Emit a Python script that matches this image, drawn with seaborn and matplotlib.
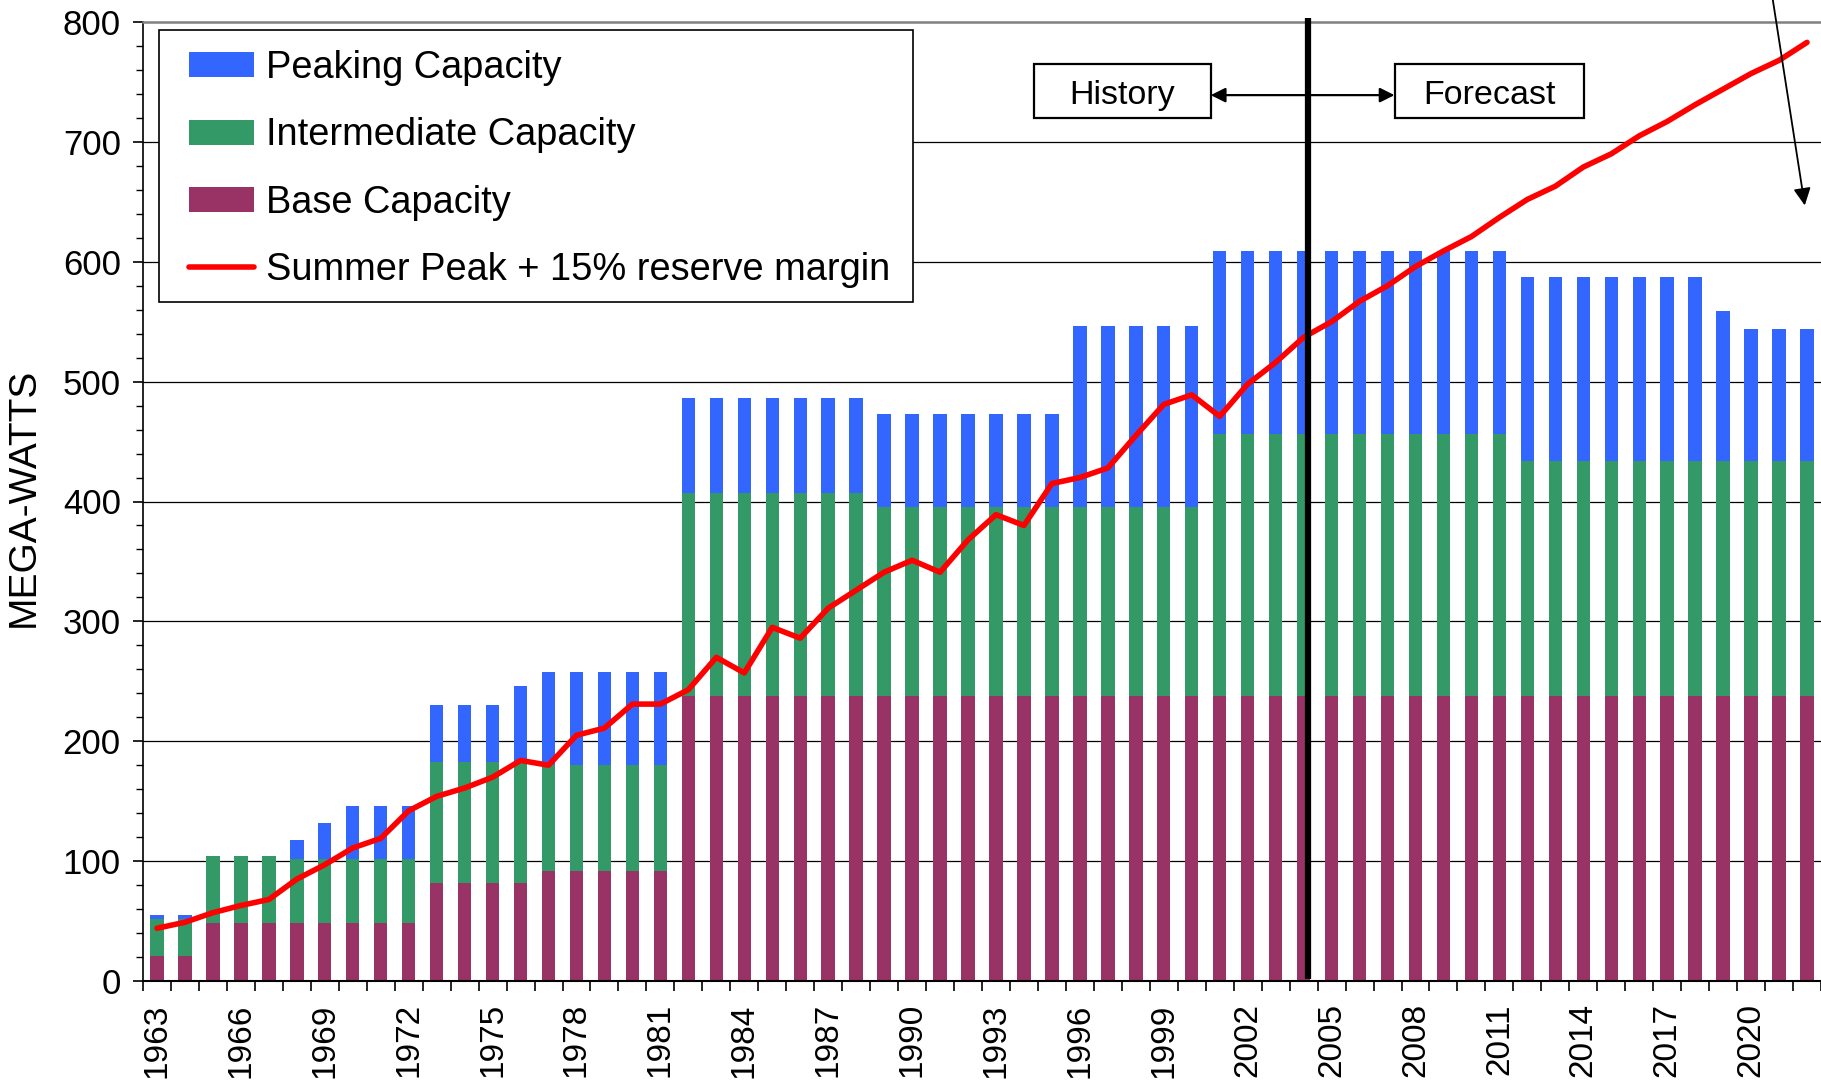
import numpy as np
import pandas as pd
import matplotlib
matplotlib.use("Agg")
import matplotlib.pyplot as plt
import seaborn as sns
from matplotlib.patches import Patch, Rectangle
from matplotlib.lines import Line2D
from matplotlib.ticker import MultipleLocator, FixedLocator

# ---------------- data ----------------
years = list(range(1963, 2023))

base = [21] * 2 + [48] * 8 + [82] * 4 + [92] * 5 + [238] * 41
intermediate_top = ([52] * 2 + [104] * 3 + [102] * 5 + [183] * 4 + [180] * 5 +
                    [407] * 7 + [395] * 12 + [456] * 11 + [434] * 11)
total_top = ([55] * 2 + [104] * 3 + [118, 132] + [146] * 3 + [230] * 3 + [246] +
             [258] * 5 + [486] * 7 + [473] * 7 + [546] * 5 + [609] * 11 +
             [587] * 7 + [559] + [544] * 3)
summer_peak = [44, 49, 57, 63, 68, 85, 97, 111, 119, 142,
               154, 161, 170, 184, 180, 205, 211, 231, 231, 243,
               270, 257, 295, 286, 311, 326, 341, 351, 341, 368,
               389, 380, 415, 420, 428, 455, 481, 489, 471, 498,
               516, 537, 550, 567, 580, 596, 609, 621, 637, 652,
               663, 679, 690, 705, 717, 731, 744, 757, 768, 783]

intermediate = [t - b for t, b in zip(intermediate_top, base)]
peaking = [t - i for t, i in zip(total_top, intermediate_top)]

series_labels = ["Peaking Capacity", "Intermediate Capacity", "Base Capacity",
                 "Summer Peak + 15% reserve margin"]
tick_years = years[::3]

df = pd.DataFrame({"year": [str(y) for y in years],
                   "pos": np.arange(len(years)),
                   "base": base,
                   "inter_cum": np.array(base) + np.array(intermediate),
                   "total": np.array(base) + np.array(intermediate) + np.array(peaking),
                   "peak": summer_peak})

# ---------------- style ----------------
sns.set_theme(style="white")
plt.rcParams["font.family"] = ["Liberation Sans", "DejaVu Sans"]
plt.rcParams["text.color"] = "black"
plt.rcParams["axes.labelcolor"] = "black"
plt.rcParams["xtick.color"] = "black"
plt.rcParams["ytick.color"] = "black"

c_peak = "#3366FF"
c_inter = "#339966"
c_base = "#993366"
c_line = "#FF0000"

fig = plt.figure(figsize=(18.21, 10.84), dpi=100)
ax = fig.add_axes([143 / 1821, 1 - 981 / 1084, 1 - 143 / 1821, (981 - 22) / 1084])

bw = 0.48
sns.barplot(data=df, x="year", y="total", color=c_peak, saturation=1, width=bw,
            linewidth=0, ax=ax, zorder=2)
sns.barplot(data=df, x="year", y="inter_cum", color=c_inter, saturation=1, width=bw,
            linewidth=0, ax=ax, zorder=2)
sns.barplot(data=df, x="year", y="base", color=c_base, saturation=1, width=bw,
            linewidth=0, ax=ax, zorder=2)
sns.lineplot(data=df, x="pos", y="peak", color=c_line, lw=4.0, sort=False, ax=ax,
             zorder=4, legend=False)

ax.set_xlim(-0.5, 59.5)
ax.set_ylim(0, 800)

# gridlines
ax.yaxis.set_major_locator(MultipleLocator(100))
ax.yaxis.set_minor_locator(MultipleLocator(20))
ax.grid(False)
for yv in range(100, 800, 100):
    ax.axhline(yv, color="black", lw=0.9, zorder=1)

# spines
ax.spines["right"].set_visible(False)
ax.spines["top"].set_color("#808080")
ax.spines["top"].set_linewidth(1.8)
ax.spines["left"].set_color("black")
ax.spines["left"].set_linewidth(1.2)
ax.spines["bottom"].set_color("black")
ax.spines["bottom"].set_linewidth(1.5)

# y ticks
ax.tick_params(axis="y", which="major", direction="out", length=7, width=1.2,
               color="black", labelcolor="black", labelsize=25, pad=9, left=True)
ax.tick_params(axis="y", which="minor", direction="out", length=5, width=1.0,
               color="black", left=True)
ax.set_yticks(range(0, 801, 100))
ax.set_yticklabels([str(v) for v in range(0, 801, 100)])

# x ticks: tick marks between categories, labels every 3 years
ax.xaxis.set_major_locator(FixedLocator([years.index(y) for y in tick_years]))
ax.set_xticklabels([str(y) for y in tick_years], rotation=90)
ax.xaxis.set_minor_locator(FixedLocator(np.arange(-0.5, 60, 1)))
ax.tick_params(axis="x", which="major", length=0, labelsize=24, labelcolor="black",
               pad=16, bottom=True)
ax.tick_params(axis="x", which="minor", direction="out", length=7, width=1.2,
               color="black", bottom=True)
ax.set_xlabel("")
ax.set_ylabel("")

fig.text(24 / 1821, 0.541, "MEGA-WATTS", rotation=90, ha="center", va="center",
         fontsize=28, color="black")

# history / forecast divider
split_x = 41.15
ax.plot([split_x, split_x], [2, 803], color="black", lw=4.5, zorder=5,
        clip_on=False, solid_capstyle="butt")

box_y0, box_y1 = 720, 765
for (x0, x1, txt) in [(31.36, 37.68, "History"), (44.25, 51.04, "Forecast")]:
    ax.add_patch(Rectangle((x0, box_y0), x1 - x0, box_y1 - box_y0, facecolor="white",
                           edgecolor="black", lw=1.6, zorder=6))
    ax.text((x0 + x1) / 2, (box_y0 + box_y1) / 2 - 1, txt, ha="center",
            va="center_baseline", fontsize=24.5, color="black", zorder=7)

arr_y = 739
ax.annotate("", xy=(37.68, arr_y), xytext=(split_x - 0.1, arr_y),
            arrowprops=dict(arrowstyle="-|>", color="black", lw=1.6,
                            mutation_scale=22, shrinkA=0, shrinkB=0), zorder=6)
ax.annotate("", xy=(44.25, arr_y), xytext=(split_x + 0.1, arr_y),
            arrowprops=dict(arrowstyle="-|>", color="black", lw=1.6,
                            mutation_scale=22, shrinkA=0, shrinkB=0), zorder=6)

# annotation arrow at top right (from text outside the view)
ax.annotate("", xy=(58.92, 647), xytext=(57.7, 830),
            arrowprops=dict(arrowstyle="-|>", color="black", lw=1.3,
                            mutation_scale=26, shrinkA=0, shrinkB=0),
            annotation_clip=False, zorder=6)

# legend frame (drawn separately so the padding matches)
ax.add_patch(Rectangle((0.00954, 0.708), 0.4589 - 0.00954, 0.99166 - 0.708,
                       transform=ax.transAxes, facecolor="white", edgecolor="black",
                       lw=1.2, zorder=9))

handles = [Patch(facecolor=c_peak, edgecolor="none"),
           Patch(facecolor=c_inter, edgecolor="none"),
           Patch(facecolor=c_base, edgecolor="none"),
           Line2D([0], [0], color=c_line, lw=4.0)]
leg = ax.legend(handles, series_labels, loc="upper left",
                bbox_to_anchor=(0.0274, 0.9705), borderaxespad=0,
                fontsize=27.4, frameon=False,
                handlelength=1.7, handleheight=0.64, handletextpad=0.33,
                labelspacing=0.82, borderpad=0)
for t in leg.get_texts():
    t.set_color("black")
leg.set_zorder(10)

fig.savefig("out.png", dpi=100)
